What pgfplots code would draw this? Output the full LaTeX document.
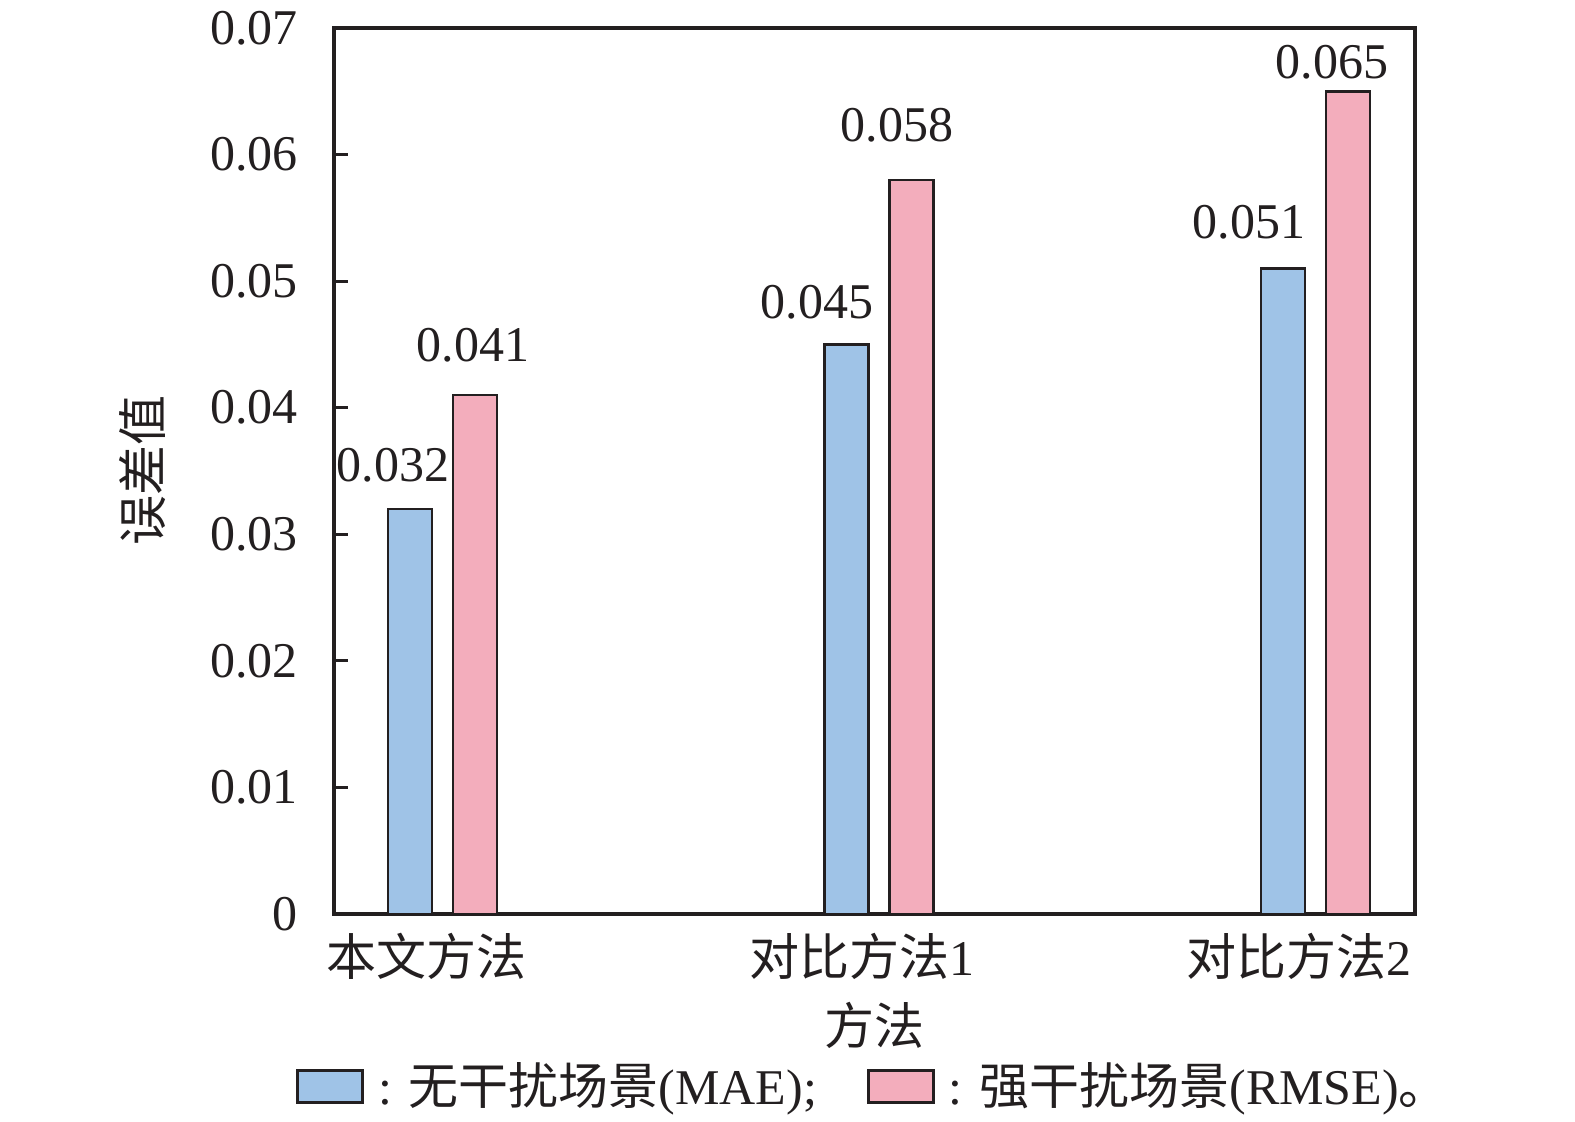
\documentclass[border=0pt]{standalone}
\usepackage{pgfplots}
\pgfplotsset{compat=1.18}
\usepackage{fontspec}
\setmainfont{Liberation Serif}
\newfontfamily\cjk{Noto Sans CJK SC}
\newcommand\fsz{\fontsize{25}{30}\selectfont}
\definecolor{barblue}{HTML}{9FC3E7}
\definecolor{barpink}{HTML}{F3ADBC}
\definecolor{ink}{HTML}{231F20}
\begin{document}
\fsz
\begin{tikzpicture}
\begin{axis}[
  at={(0pt,0pt)}, anchor=south west,
  scale only axis, width=540.5pt, height=443pt,
  xmin=-0.2108, xmax=2.2658, ymin=0, ymax=0.07,
  axis line style={ink, line width=1.6pt},
  every tick/.style={ink, line width=1.6pt},
  tick align=inside, major tick length=7pt,
  xtick pos=left, ytick pos=left,
  xtick={0,1,2},
  xticklabels={{\cjk 本文方法}, {\cjk 对比方法}1, {\cjk 对比方法}2},
  ytick={0,0.01,0.02,0.03,0.04,0.05,0.06,0.07},
  scaled y ticks=false,
  yticklabel style={/pgf/number format/fixed, /pgf/number format/precision=2},
  /pgf/number format/assume math mode=true,
  tick label style={font=\fsz, text=ink},
  yticklabel style={anchor=east, inner sep=0pt, xshift=-18pt},
  xticklabel style={anchor=center, inner sep=0pt, yshift=-21pt},
  xlabel={\cjk 方法}, ylabel={\cjk 误差值},
  label style={font=\fsz, text=ink},
  xlabel style={at={(axis description cs:0.5,-0.1253)}, anchor=center, inner sep=0pt},
  ylabel style={at={(axis description cs:-0.1767,0.5)}, anchor=center, inner sep=0pt, rotate=0},
  legend columns=2,
  legend style={at={(axis description cs:0.5,0)}, anchor=center, yshift=-86.5pt, xshift=0pt,
    draw=none, fill=none, font=\fsz, text=ink,
    /tikz/every even column/.append style={column sep=23pt}},
  legend cell align=left,
]
\addplot[ybar, bar width=0.101, bar shift=0pt, fill=barblue, draw=ink, line width=1.3pt,
  legend image code/.code={\draw[fill=barblue, draw=ink, line width=1.5pt] (0pt,-8pt) rectangle (32.5pt,8pt);}]
  coordinates {(-0.0368,0.032) (0.9632,0.045) (1.9632,0.051)};
\addlegendentry{\hspace{5pt}: {\cjk 无干扰场景}(MAE);}
\addplot[ybar, bar width=0.101, bar shift=0pt, fill=barpink, draw=ink, line width=1.3pt,
  legend image code/.code={\draw[fill=barpink, draw=ink, line width=1.5pt] (0pt,-8pt) rectangle (32.5pt,8pt);}]
  coordinates {(0.112,0.041) (1.112,0.058) (2.112,0.065)};
\addlegendentry{\hspace{5pt}: {\cjk 强干扰场景}(RMSE){\cjk 。}}
\addplot[only marks, mark=none, forget plot, nodes near coords, point meta=explicit symbolic,
  every node near coord/.append style={anchor=center, font=\fsz, text=ink, inner sep=0pt}]
  coordinates {(-0.0756,0.03547) [0.032] (0.1077,0.04496) [0.041]
               (0.8958,0.04835) [0.045] (1.079,0.06234) [0.058]
               (1.8854,0.05467) [0.051] (2.0756,0.06731) [0.065]};
\end{axis}
\pgfresetboundingbox
\path (-167pt,-104pt) rectangle (620.5pt,457pt);
\end{tikzpicture}
\end{document}
